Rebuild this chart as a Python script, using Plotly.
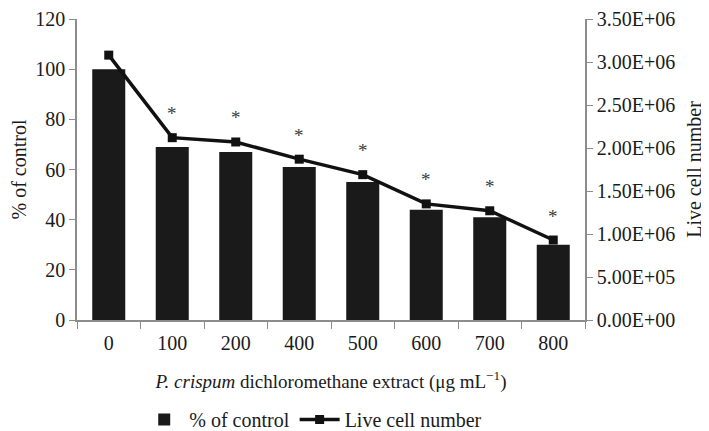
import plotly.graph_objects as go

# data
doses = ["0", "100", "200", "400", "500", "600", "700", "800"]
pct_control = [100, 69, 67, 61, 55, 44, 41, 30]
live_cells = [3.08e6, 2.12e6, 2.07e6, 1.87e6, 1.69e6, 1.35e6, 1.27e6, 0.93e6]
significant = [False, True, True, True, True, True, True, True]

right_ticks = [0, 5e5, 1e6, 1.5e6, 2e6, 2.5e6, 3e6, 3.5e6]
right_labels = ["0.00E+00", "5.00E+05", "1.00E+06", "1.50E+06",
                "2.00E+06", "2.50E+06", "3.00E+06", "3.50E+06"]

FONT = "Liberation Serif"
AXIS_GREY = "#8c8c8c"

fig = go.Figure()

fig.add_trace(go.Bar(
    x=doses, y=pct_control,
    name="% of control",
    marker=dict(color="#1a1a1a", line=dict(width=0)),
    width=0.52,
))

fig.add_trace(go.Scatter(
    x=doses, y=live_cells,
    name="Live cell number",
    yaxis="y2",
    mode="lines+markers",
    line=dict(color="#111111", width=3.5),
    marker=dict(symbol="square", size=9, color="#111111"),
))

# asterisks above the significant points
# (category axis: numeric-looking strings would be read as indices, so pass the index)
for i, (v, s) in enumerate(zip(live_cells, significant)):
    if s:
        fig.add_annotation(x=i, y=v, yref="y2", text="*", showarrow=False,
                           yshift=24, font=dict(size=19, color="#3a3a3a", family=FONT))

# page body has an 8px margin, so the figure sits 8px right/down in the window;
# the extra height below the window just gives the legend room without pushing margins
MARGIN_B = 133
PLOT_H = 445 - 11 - MARGIN_B
fig.update_layout(
    width=701, height=445,
    margin=dict(l=69, r=124, t=11, b=MARGIN_B),
    plot_bgcolor="white", paper_bgcolor="white",
    font=dict(family=FONT, size=20, color="#1a1a1a"),
    showlegend=True,
    legend=dict(orientation="h", x=0.465, xanchor="center",
                y=-(MARGIN_B - 14) / PLOT_H, yanchor="bottom",
                font=dict(size=20), itemwidth=40, tracegroupgap=0),
    xaxis=dict(
        type="category", automargin=False,
        title=dict(text="<i>P. crispum</i> dichloromethane extract (μg mL<sup>−1</sup>)",
                   font=dict(size=19), standoff=22),
        showline=True, linecolor=AXIS_GREY, linewidth=1.5,
        ticks="outside", tickson="boundaries", ticklen=7, tickcolor=AXIS_GREY,
        ticklabelstandoff=4,
        tickfont=dict(size=20), showgrid=False,
    ),
    yaxis=dict(
        automargin=False,
        title=dict(text="% of control", font=dict(size=20), standoff=9),
        range=[0, 120], dtick=20,
        showline=True, linecolor=AXIS_GREY, linewidth=1.5,
        ticks="outside", ticklen=6, tickcolor=AXIS_GREY,
        showgrid=False, zeroline=False, tickfont=dict(size=20),
    ),
    yaxis2=dict(
        automargin=False,
        title=dict(text="Live cell number", font=dict(size=20), standoff=13),
        overlaying="y", side="right",
        range=[0, 3.5e6], tickvals=right_ticks, ticktext=right_labels,
        showline=True, linecolor=AXIS_GREY, linewidth=1.5,
        ticks="outside", ticklen=6, tickcolor=AXIS_GREY,
        showgrid=False, zeroline=False, tickfont=dict(size=20),
    ),
)

fig.write_html("out.html")
